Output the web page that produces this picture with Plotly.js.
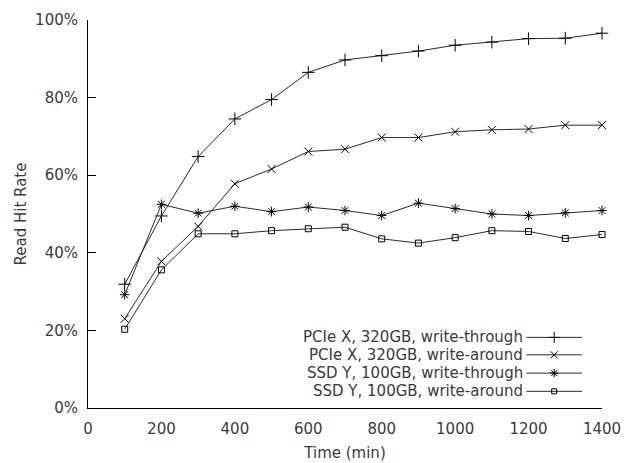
<!DOCTYPE html>
<html>
<head>
<meta charset="utf-8">
<script src="https://cdn.plot.ly/plotly-3.0.1.min.js"></script>
<style>html,body{margin:0;padding:0;background:#fff}#chart{width:634px;height:463px}</style>
</head>
<body>
<div id="chart"></div>
<script>
var timeMin = [100, 200, 300, 400, 500, 600, 700, 800, 900, 1000, 1100, 1200, 1300, 1400];
var pcieWriteThrough = [31.9, 49.5, 64.8, 74.5, 79.5, 86.5, 89.7, 90.8, 92.0, 93.5, 94.3, 95.2, 95.3, 96.6];
var pcieWriteAround  = [23.0, 37.8, 46.8, 57.8, 61.6, 66.1, 66.7, 69.7, 69.7, 71.2, 71.7, 71.9, 72.9, 72.9];
var ssdWriteThrough  = [29.2, 52.5, 50.2, 52.0, 50.6, 51.8, 50.9, 49.6, 52.8, 51.4, 50.0, 49.6, 50.3, 50.9];
var ssdWriteAround   = [20.3, 35.6, 44.9, 44.9, 45.7, 46.2, 46.6, 43.6, 42.5, 43.9, 45.7, 45.5, 43.7, 44.7];
var seriesNames = ["PCIe X, 320GB, write-through", "PCIe X, 320GB, write-around", "SSD Y, 100GB, write-through", "SSD Y, 100GB, write-around"];
var xTickVals = [0, 200, 400, 600, 800, 1000, 1200, 1400];
var yTickVals = [0, 20, 40, 60, 80, 100];
var yTickText = ["0%", "20%", "40%", "60%", "80%", "100%"];

var seriesData = [pcieWriteThrough, pcieWriteAround, ssdWriteThrough, ssdWriteAround];
var symbols = ["cross-thin", "x-thin", "asterisk-open", "square-open"];
var sizes = [9, 8, 8, 6];
var lineColor = "#2a2a2a";
var font = "DejaVu Sans, sans-serif";
var textColor = "#3a3a3a";

var traces = [];
seriesData.forEach(function (ys, i) {
  traces.push({
    x: timeMin, y: ys, name: seriesNames[i], type: "scatter", mode: "lines+markers",
    line: {color: lineColor, width: 1},
    marker: {symbol: symbols[i], size: sizes[i], color: "#000", line: {color: "#000", width: 1}},
    cliponaxis: false, showlegend: false, hoverinfo: "skip"
  });
});

// custom gnuplot-style key (text right, sample on right)
var keyRows = [0.182, 0.137, 0.090, 0.043];
var sampleX0 = 0.853, sampleX1 = 0.961, sampleMid = 0.907, textRight = 0.849;
var annotations = [];
seriesNames.forEach(function (nm, i) {
  traces.push({
    x: [sampleX0, sampleX1], y: [keyRows[i], keyRows[i]], xaxis: "x2", yaxis: "y2",
    type: "scatter", mode: "lines", line: {color: lineColor, width: 1},
    showlegend: false, hoverinfo: "skip", cliponaxis: false
  });
  traces.push({
    x: [sampleMid], y: [keyRows[i]], xaxis: "x2", yaxis: "y2",
    type: "scatter", mode: "markers",
    marker: {symbol: symbols[i], size: sizes[i] - 1, color: "#000", line: {color: "#000", width: 1}},
    showlegend: false, hoverinfo: "skip", cliponaxis: false
  });
  annotations.push({
    xref: "paper", yref: "paper", x: textRight, y: keyRows[i], xanchor: "right", yanchor: "middle",
    text: nm, showarrow: false, font: {family: font, size: 15, color: textColor}, borderpad: 0
  });
});

var layout = {
  width: 634, height: 463,
  margin: {l: 88, r: 32, t: 20, b: 55},
  paper_bgcolor: "#fff", plot_bgcolor: "#fff",
  font: {family: font, size: 15, color: textColor},
  showlegend: false,
  xaxis: {
    range: [0, 1400], tickvals: xTickVals, ticks: "", showgrid: false, zeroline: false,
    showline: true, linecolor: "#000", linewidth: 1, mirror: false,
    ticklabelstandoff: 7,
    title: {text: "Time (min)", font: {family: font, size: 15, color: textColor}, standoff: 10}
  },
  yaxis: {
    range: [0, 100], tickvals: yTickVals, ticktext: yTickText, ticks: "inside", ticklen: 8, tickcolor: "#000",
    showgrid: false, zeroline: false, showline: true, linecolor: "#000", linewidth: 1, mirror: false,
    ticklabelstandoff: 6,
    title: {text: "Read Hit Rate", font: {family: font, size: 15, color: textColor}, standoff: 4}
  },
  xaxis2: {overlaying: "x", range: [0, 1], visible: false, fixedrange: true},
  yaxis2: {overlaying: "y", range: [0, 1], visible: false, fixedrange: true},
  annotations: annotations
};

Plotly.newPlot("chart", traces, layout, {staticPlot: true, displayModeBar: false});
</script>
</body>
</html>
